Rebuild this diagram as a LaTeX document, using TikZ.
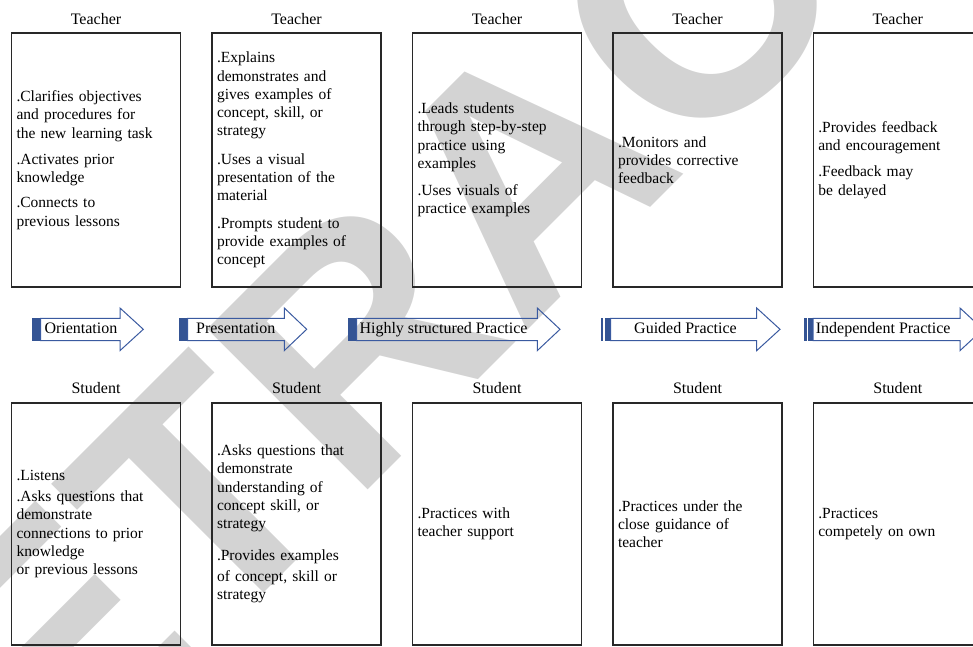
\documentclass[tikz,border=0pt]{standalone}
\usepackage{fontspec}
\setmainfont{Liberation Serif}
\newfontfamily\wmfamily{Liberation Sans}
\definecolor{wmgray}{RGB}{211,211,211}
\definecolor{barblue}{RGB}{52,84,148}
\definecolor{lineblue}{RGB}{58,90,160}
\definecolor{boxline}{RGB}{40,40,40}
\begin{document}
\begin{tikzpicture}[x=1pt,y=-1pt,
  tbox/.style={draw=boxline, line width=1.2pt, minimum width=169, minimum height=254,
    text width=159, align=left, inner xsep=5, inner ysep=0,
    font=\fontsize{15.5}{18.3}\selectfont},
  sbox/.style={tbox, minimum height=242},
  role/.style={anchor=base, inner sep=0, font=\fontsize{16}{18}\selectfont},
  stagebar/.style={fill=barblue},
  stageline/.style={draw=lineblue, line width=1pt, line join=miter},
  stagetext/.style={anchor=base west, inner sep=0, font=\fontsize{16}{18}\selectfont},
]
\useasboundingbox (0,0) rectangle (973,646);

% watermark
\node[rotate=45, text=wmgray, inner sep=0,
  font=\wmfamily\bfseries\fontsize{330}{330}\selectfont] (wm) at (525,172) {RETRACTED};

% role labels
\foreach \i/\x in {1/96,2/296.5,3/497,4/697.5,5/897.8}{
  \node[role] (teach\i) at (\x,24) {Teacher};
  \node[role] (stud\i) at (\x,393.3) {Student};
}

% teacher boxes
\node[tbox] (tb1) at (96,160) {.Clarifies objectives\\and procedures for\\the new learning task\\[8pt].Activates prior\\knowledge\\[7pt].Connects to\\previous lessons};
\node[tbox] (tb2) at (296.5,160) {.Explains\\demonstrates and\\gives examples of\\concept, skill, or\\strategy\\[10pt].Uses a visual\\presentation of the\\material\\[9pt].Prompts student to\\provide examples of\\concept};
\node[tbox] (tb3) at (497,160) {.Leads students\\through step-by-step\\practice using\\examples\\[9pt].Uses visuals of\\practice examples};
\node[tbox] (tb4) at (697.5,160) {.Monitors and\\provides corrective\\feedback};
\node[tbox] (tb5) at (897.8,160) {.Provides feedback\\and encouragement\\[8pt].Feedback may\\be delayed};

% student boxes
\node[sbox] (sb1) at (96,524) {.Listens\\[3pt].Asks questions that\\demonstrate\\connections to prior\\knowledge\\or previous lessons};
\node[sbox] (sb2) at (296.5,524) {.Asks questions that\\demonstrate\\understanding of\\concept skill, or\\strategy\\[13pt].Provides examples\\[3pt]of concept, skill or\\strategy};
\node[sbox] (sb3) at (497,524) {.Practices with\\teacher support};
\node[sbox] (sb4) at (697.5,524) {.Practices under the\\close guidance of\\teacher};
\node[sbox] (sb5) at (897.8,524) {.Practices\\competely on own};

% stage arrows
\fill[stagebar] (32.3,318.3) rectangle (40.7,340.5);
\draw[stageline] (40.7,318.3) -- (120,318.3) -- (120,308) -- (143.3,329.3) -- (120,350.6) -- (120,340.5) -- (40.7,340.5) -- cycle;
\node[stagetext] (st1) at (44.3,333.3) {Orientation};

\fill[stagebar] (179.3,318.3) rectangle (187.7,340.5);
\draw[stageline] (187.7,318.3) -- (284.3,318.3) -- (284.3,308) -- (306.7,329.3) -- (284.3,350.6) -- (284.3,340.5) -- (187.7,340.5) -- cycle;
\node[stagetext] (st2) at (196,333.3) {Presentation};

\fill[stagebar] (348.3,318.3) rectangle (356.7,340.5);
\draw[stageline] (356.7,318.3) -- (537.3,318.3) -- (537.3,308) -- (560,329.3) -- (537.3,350.6) -- (537.3,340.5) -- (356.7,340.5) -- cycle;
\node[stagetext] (st3) at (359.3,333.3) {Highly structured Practice};

\fill[stagebar] (601,318.3) rectangle (603.3,340.5);
\fill[stagebar] (605,318.3) rectangle (610.7,340.5);
\draw[stageline] (610.7,318.3) -- (756.7,318.3) -- (756.7,308) -- (780,329.3) -- (756.7,350.6) -- (756.7,340.5) -- (610.7,340.5) -- cycle;
\node[stagetext] (st4) at (634,333.3) {Guided Practice};

\fill[stagebar] (804.3,318.3) rectangle (806.7,340.5);
\fill[stagebar] (808.3,318.3) rectangle (813,340.5);
\draw[stageline] (813,318.3) -- (960,318.3) -- (960,308) -- (983,329.3) -- (960,350.6) -- (960,340.5) -- (813,340.5) -- cycle;
\node[stagetext] (st5) at (815.7,333.3) {Independent Practice};
\end{tikzpicture}
\end{document}
